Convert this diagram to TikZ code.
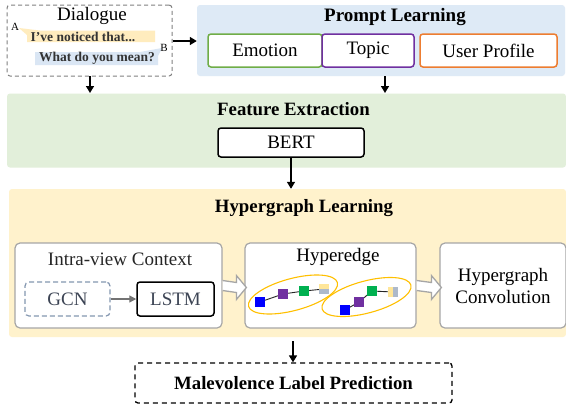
\documentclass[tikz,border=0pt]{standalone}
\usepackage{fontspec}
\setmainfont{Liberation Serif}
\usetikzlibrary{arrows.meta,calc}
\definecolor{pbg}{RGB}{222,234,246}
\definecolor{fbg}{RGB}{226,239,218}
\definecolor{hbg}{RGB}{255,242,204}
\definecolor{cgreen}{RGB}{112,173,71}
\definecolor{cpurple}{RGB}{112,48,160}
\definecolor{corange}{RGB}{237,125,49}
\definecolor{boxgray}{RGB}{166,166,166}
\definecolor{slate}{RGB}{132,151,176}
\definecolor{slatetext}{RGB}{60,68,84}
\definecolor{ellc}{RGB}{255,192,0}
\definecolor{sqgreen}{RGB}{0,176,80}
\definecolor{sqyellow}{RGB}{255,230,153}
\definecolor{sqgray}{RGB}{173,185,202}
\definecolor{bubyellow}{RGB}{255,236,190}
\definecolor{bubblue}{RGB}{218,230,244}
\tikzset{
  mainfont/.style={font=\fontsize{19}{22}\selectfont},
  headfont/.style={font=\fontsize{18.8}{22}\selectfont\bfseries},
  panel/.style={rectangle, rounded corners=3pt, inner sep=0pt},
  whitebox/.style={rectangle, rounded corners=5pt, draw=boxgray, line width=1.2pt, fill=white, inner sep=0pt},
  promptbox/.style={rectangle, rounded corners=3pt, line width=1.5pt, fill=white, inner sep=0pt, minimum height=33pt, mainfont},
  blackbox/.style={rectangle, rounded corners=3pt, draw=black, line width=1.5pt, fill=white, inner sep=0pt, mainfont},
  flow/.style={-{Triangle[length=7pt,width=8pt]}, line width=1.5pt},
  hollow/.style={draw=boxgray, fill=white, line width=1.3pt, line join=miter},
  sq/.style={rectangle, minimum width=10pt, minimum height=10pt, inner sep=0pt},
  link/.style={line width=0.9pt, draw=black!85},
  bubtext/.style={font=\fontsize{13.5}{14}\selectfont\bfseries, text=black!80},
}
\begin{document}
\begin{tikzpicture}[x=1pt,y=-1pt]
\useasboundingbox[fill=white] (0,0) rectangle (566,408);

% ---------- Dialogue ----------
\node[panel, draw=black!50, dash pattern=on 4pt off 3pt, line width=1pt, minimum width=165pt, minimum height=71pt] (dialog) at (89.5,40.5) {};
\node[mainfont, anchor=base] (dtitle) at (92,20.5) {Dialogue};
\fill[bubyellow] (19,28) -- (40,30.5) -- (155,30.5) -- (155,42) -- (27,42) -- (27,35) -- cycle;
\fill[bubblue] (35,52) -- (140,52) -- (162,48) -- (158,56) -- (158,65) -- (35,65) -- cycle;
\node[font=\fontsize{11}{12}\selectfont, inner sep=0pt] (spA) at (15,27) {A};
\node[font=\fontsize{11}{12}\selectfont, inner sep=0pt] (spB) at (164,48) {B};
\node[bubtext, inner sep=0pt] (utt1) at (83,36.5) {I've noticed that...};
\node[bubtext, inner sep=0pt] (utt2) at (97,58.5) {What do you mean?};

% ---------- Prompt Learning ----------
\node[panel, fill=pbg, minimum width=368pt, minimum height=71pt] (prompt) at (381,40.5) {};
\node[font=\fontsize{19}{22}\selectfont\bfseries, anchor=base] (ptitle) at (395,21) {Prompt Learning};
\node[promptbox, draw=cgreen, minimum width=114pt] (emotion) at (265,50.5) {Emotion};
\node[promptbox, draw=cpurple, minimum width=92pt] (topic) at (368,50.5) {Topic};
\node[promptbox, draw=corange, minimum width=137pt] (profile) at (488.5,50.5) {User Profile};

% ---------- Feature Extraction ----------
\node[panel, fill=fbg, minimum width=559pt, minimum height=74pt] (feature) at (286.5,130.5) {};
\node[headfont, anchor=base] (ftitle) at (293.5,115) {Feature Extraction};
\node[blackbox, minimum width=146pt, minimum height=29pt] (bert) at (291,142.5) {BERT};

% ---------- Hypergraph Learning ----------
\node[panel, fill=hbg, minimum width=557pt, minimum height=148pt] (hyper) at (287.5,263) {};
\node[headfont, anchor=base] (htitle) at (304,212) {Hypergraph Learning};

\node[whitebox, minimum width=207pt, minimum height=85pt] (intra) at (118.5,285.5) {};
\node[mainfont, text=black!85, anchor=base] (ititle) at (120,265) {Intra-view Context};
\node[rectangle, rounded corners=4pt, draw=slate, dash pattern=on 5pt off 3pt, line width=1.2pt, minimum width=85pt, minimum height=34pt, mainfont, text=slatetext] (gcn) at (67.5,299) {GCN};
\node[blackbox, text=slatetext, minimum width=77pt, minimum height=34pt] (lstm) at (175.5,299) {LSTM};
\draw[-{Triangle[length=7pt,width=7pt]}, draw=black!55, line width=1.3pt] (gcn) -- (lstm);

\node[whitebox, minimum width=171pt, minimum height=85pt] (hedge) at (330.5,285.5) {};
\node[mainfont, anchor=base] (etitle) at (338,261) {Hyperedge};

\node[whitebox, minimum width=126pt, minimum height=85pt, mainfont, align=center] (conv) at (503,285.5) {Hypergraph\\Convolution};

% hyperedge content
\draw[ellc, line width=1.1pt, rotate around={15:(293,294.5)}] (293,294.5) ellipse [x radius=46, y radius=16];
\draw[ellc, line width=1.1pt, rotate around={15:(366.5,297)}] (366.5,297) ellipse [x radius=46, y radius=16];
\node[sq] (b1) at (260,302) {};
\node[sq] (p1) at (283,294) {};
\node[sq] (g1) at (304,291) {};
\node[sq] (y1) at (324,289) {};
\node[sq] (b2) at (345,310) {};
\node[sq] (p2) at (359,302) {};
\node[sq] (g2) at (372,291) {};
\node[sq, minimum width=9pt, minimum height=9pt] (y2) at (393,292) {};
\draw[link] (b1.center) -- (p1.center) -- (g1.center) -- (y1.center);
\draw[link] (b2.center) -- (p2.center) -- (g2.center) -- (y2.center);
\fill[blue] (b1.south west) rectangle (b1.north east);
\fill[cpurple] (p1.south west) rectangle (p1.north east);
\fill[sqgreen] (g1.south west) rectangle (g1.north east);
\fill[blue] (b2.south west) rectangle (b2.north east);
\fill[cpurple] (p2.south west) rectangle (p2.north east);
\fill[sqgreen] (g2.south west) rectangle (g2.north east);
\fill[sqyellow] (y1.north west) rectangle (y1.east);
\fill[sqgray] (y1.west) rectangle (y1.south east);
\fill[sqyellow] (y2.north west) rectangle (y2.south);
\fill[sqgray] (y2.north) rectangle (y2.south east);

% hollow arrows
\coordinate (a1s) at (intra.east);
\coordinate (a1e) at ($(hedge.west)+(2,2)$);
\draw[hollow] ($(a1s)+(0,-5)$) -- ($(a1e)+(-10,-5)$) -- ($(a1e)+(-10,-12)$) -- (a1e) -- ($(a1e)+(-10,12)$) -- ($(a1e)+(-10,5)$) -- ($(a1s)+(0,5)$);
\coordinate (a2s) at (hedge.east);
\coordinate (a2e) at ($(conv.west)+(2,2)$);
\draw[hollow] ($(a2s)+(0,-5)$) -- ($(a2e)+(-10,-5)$) -- ($(a2e)+(-10,-12)$) -- (a2e) -- ($(a2e)+(-10,12)$) -- ($(a2e)+(-10,5)$) -- ($(a2s)+(0,5)$);

% ---------- Prediction ----------
\node[rectangle, rounded corners=3pt, draw=black, dash pattern=on 5pt off 4pt, line width=1.3pt, minimum width=317pt, minimum height=40pt, headfont] (pred) at (293.5,383) {Malevolence Label Prediction};

% ---------- arrows ----------
\draw[flow] (dialog.east |- 0,41) -- (prompt.west |- 0,41);
\draw[flow] (90,76) -- (90,93);
\draw[flow] (385,76) -- (385,93);
\draw[flow] (bert.south) -- (bert.south |- hyper.north);
\draw[flow] (293,341) -- (pred.north -| 293,0);
\end{tikzpicture}
\end{document}
